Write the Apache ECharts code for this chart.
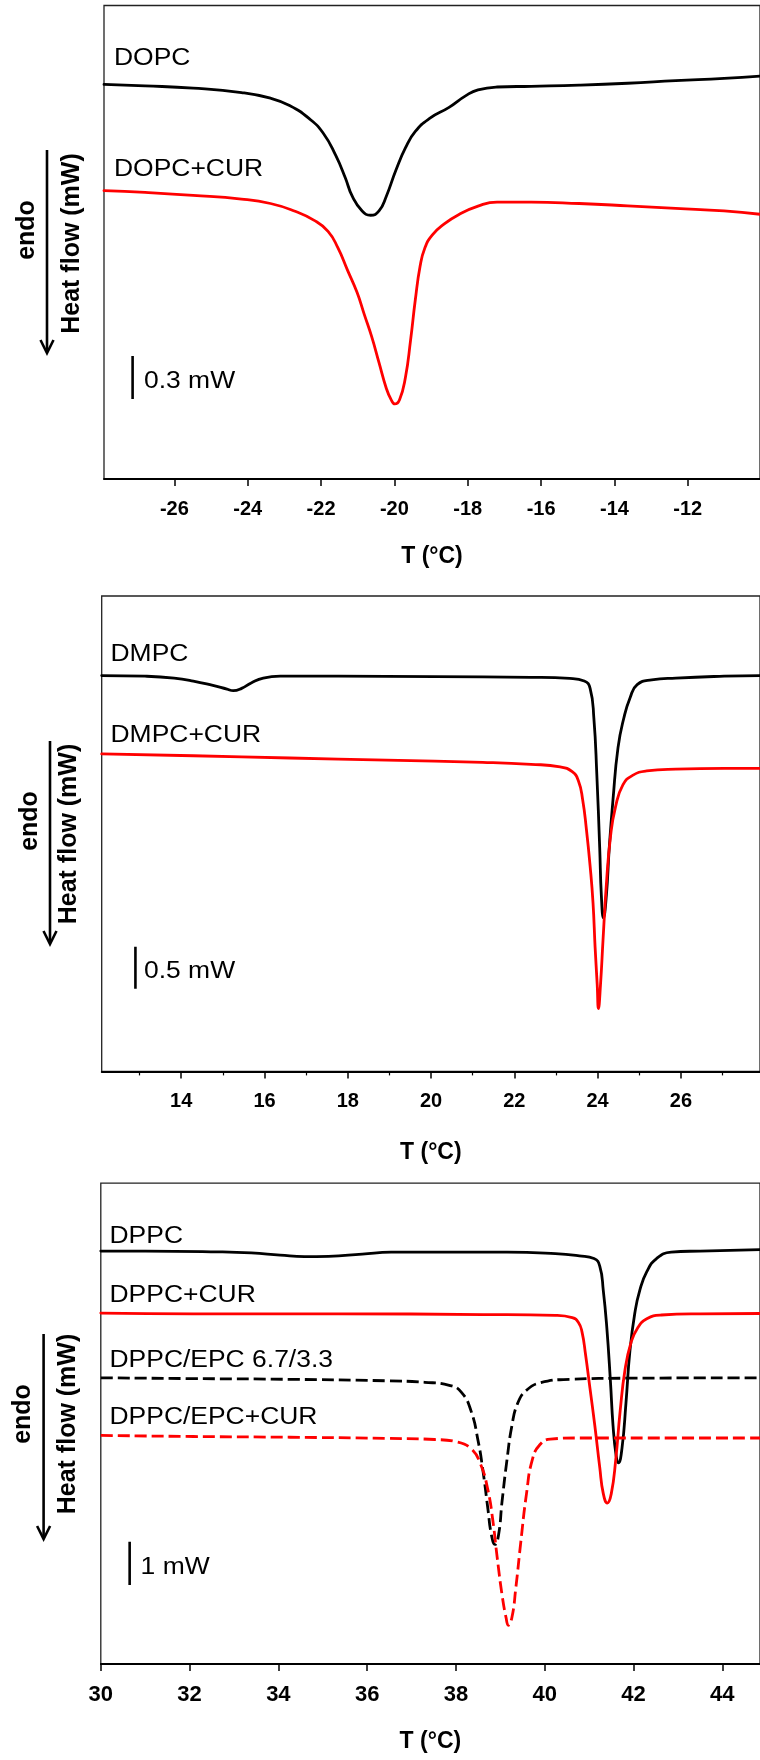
<!DOCTYPE html>
<html>
<head>
<meta charset="utf-8">
<script src="https://cdn.jsdelivr.net/npm/echarts@6/dist/echarts.min.js"></script>
<style>
html,body{margin:0;padding:0;background:#fff;}
#chart{width:760px;height:1760px;}
</style>
</head>
<body>
<div id="chart"></div>
<script>
// ---------- DATA (T in °C, heat flow in mW, arbitrary offsets) ----------
// Panel 1
const dopcT  = [-27.92,-26.80,-25.49,-24.17,-23.38,-22.86,-22.33,-21.94,-21.60,-21.34,-21.15,-20.88,-20.65,-20.42,-20.22,-19.96,-19.70,-19.43,-19.04,-18.51,-18.05,-17.72,-17.20,-16.27,-14.96,-13.64,-12.33,-11.01,-10.03];
const dopcHF = [2.750,2.740,2.724,2.693,2.654,2.603,2.513,2.410,2.255,2.100,1.971,1.868,1.838,1.868,1.971,2.152,2.307,2.422,2.513,2.590,2.672,2.712,2.732,2.737,2.745,2.758,2.776,2.792,2.808];
const dopcCurT  = [-27.92,-26.80,-25.49,-24.17,-23.38,-22.73,-22.20,-21.81,-21.54,-21.28,-21.02,-20.82,-20.62,-20.42,-20.22,-20.09,-19.99,-19.86,-19.70,-19.56,-19.43,-19.30,-19.17,-18.97,-18.64,-18.25,-17.72,-17.20,-16.27,-14.96,-13.64,-12.33,-11.01,-10.03];
const dopcCurHF = [2.010,1.997,1.977,1.951,1.920,1.868,1.804,1.726,1.610,1.456,1.301,1.146,0.992,0.811,0.631,0.553,0.523,0.553,0.708,0.966,1.249,1.482,1.610,1.700,1.778,1.842,1.902,1.930,1.930,1.920,1.904,1.886,1.868,1.845];
// Panel 2
const dmpcT  = [12.09,13.13,13.83,14.29,14.76,15.10,15.25,15.45,15.68,15.97,16.38,17.77,20.08,22.40,23.33,23.68,23.82,23.91,23.98,24.05,24.09,24.14,24.21,24.28,24.37,24.49,24.63,24.78,24.95,25.30,25.88,27.04,27.90];
const dmpcHF = [4.713,4.705,4.683,4.648,4.595,4.551,4.533,4.560,4.625,4.683,4.705,4.705,4.700,4.692,4.679,4.648,4.560,4.207,3.546,2.665,2.093,1.829,2.093,2.665,3.238,3.855,4.207,4.449,4.604,4.661,4.683,4.705,4.713];
const dmpcCurT  = [12.09,14.29,16.61,18.93,21.24,22.40,23.10,23.39,23.54,23.64,23.73,23.82,23.89,23.94,23.99,24.02,24.07,24.13,24.21,24.31,24.43,24.61,24.84,25.18,25.88,27.04,27.90];
const dmpcCurHF = [3.780,3.758,3.731,3.705,3.679,3.656,3.626,3.568,3.458,3.238,2.886,2.445,2.005,1.476,1.036,0.749,1.036,1.564,2.225,2.798,3.150,3.414,3.524,3.577,3.599,3.608,3.608];
// Panel 3
const dppcT  = [30.00,31.00,32.63,33.39,34.04,34.59,35.13,35.89,36.54,37.52,39.15,40.24,40.78,41.11,41.24,41.32,41.40,41.48,41.54,41.61,41.66,41.74,41.83,41.92,42.03,42.14,42.30,42.52,42.85,43.50,44.85];
const dppcHF = [9.543,9.543,9.525,9.499,9.448,9.412,9.421,9.473,9.517,9.517,9.517,9.482,9.430,9.369,9.194,8.630,7.762,6.545,5.501,4.806,4.649,4.979,6.023,7.240,8.109,8.630,9.065,9.369,9.517,9.543,9.577];
const dppcCurT  = [30.00,32.09,35.35,38.61,40.24,40.62,40.76,40.84,40.92,41.02,41.13,41.24,41.32,41.41,41.50,41.60,41.70,41.81,41.94,42.09,42.30,42.63,43.50,44.85];
const dppcCurHF = [8.109,8.092,8.092,8.075,8.057,8.005,7.892,7.675,7.153,6.370,5.501,4.545,3.938,3.721,3.938,4.718,5.850,6.806,7.413,7.760,7.977,8.065,8.092,8.100];
const epcT  = [30.00,32.09,34.26,36.43,37.30,37.85,38.12,38.34,38.50,38.61,38.72,38.80,38.88,38.96,39.04,39.15,39.26,39.39,39.59,39.91,40.56,41.87,44.85];
const epcHF = [6.614,6.596,6.579,6.545,6.510,6.441,6.284,5.850,5.155,4.460,3.589,2.982,2.764,2.982,3.764,4.718,5.501,6.023,6.328,6.501,6.579,6.605,6.614];
const epcCurT  = [30.00,32.09,34.26,36.43,37.52,38.01,38.34,38.55,38.72,38.83,38.93,39.04,39.13,39.18,39.26,39.35,39.46,39.59,39.72,39.89,40.13,40.78,42.96,44.85];
const epcCurHF = [5.284,5.258,5.241,5.215,5.189,5.137,4.979,4.633,4.024,3.328,2.460,1.591,1.069,0.896,1.069,1.764,2.808,3.938,4.718,5.067,5.199,5.224,5.224,5.224];

// Axis ranges and ticks
const xRanges = [[-27.92,-10.03],[12.09,27.90],[30,44.85]];
const yRanges = [[0,3.30],[0,5.66],[0,11.11]];
const ticks1 = [-26,-24,-22,-20,-18,-16,-14,-12];
const ticks2 = [14,16,18,20,22,24,26];
const minorTicks2 = [13,15,17,19,21,23,25,27];
const ticks3 = [30,32,34,36,38,40,42,44];
const xTitle = 'T (°C)';
const yTitle = 'Heat flow (mW)';
const endoLabel = 'endo';
// Scale bars: [T position, lower HF, bar size in mW]
const scaleBars = [[-27.14,0.557,0.3],[12.90,0.983,0.5],[30.65,1.827,1]];
const scaleLabels = ['0.3 mW','0.5 mW','1 mW'];
const curveLabels = [['DOPC','DOPC+CUR'],['DMPC','DMPC+CUR'],['DPPC','DPPC+CUR','DPPC/EPC 6.7/3.3','DPPC/EPC+CUR']];

// ---------- CHART ----------
const FONT = "'Liberation Sans', Arial, Helvetica, sans-serif";
const zip = (a,b)=>a.map((v,i)=>[v,b[i]]);
const grids = [
  {left:104, right:-3, top:5.5, height:473.5},
  {left:101.7, right:-3, top:596, height:475.4},
  {left:100.8, right:-3, top:1183.2, height:480.9}
].map(g=>Object.assign(g,{show:true, borderColor:'#222', borderWidth:1.3, backgroundColor:'transparent', containLabel:false}));

const tickSets = [ticks1,ticks2,ticks3];
const labelSizes = [20,20,22];
const nameGaps = [66,70,66];
const xAxes = [];
const yAxes = [];
for(let i=0;i<3;i++){
  xAxes.push({
    type:'value', gridIndex:i, min:xRanges[i][0], max:xRanges[i][1],
    axisLine:{show:true,onZero:false,lineStyle:{color:'#000',width:1.8}},
    axisTick:{show:true,length:7,customValues:tickSets[i],lineStyle:{color:'#000',width:1.5}},
    axisLabel:{show:true,customValues:tickSets[i],margin:20,fontSize:labelSizes[i],fontWeight:'bold',color:'#000',fontFamily:FONT},
    splitLine:{show:false},
    name:xTitle, nameLocation:'middle', nameGap:nameGaps[i],
    nameTextStyle:{fontSize:23,fontWeight:'bold',color:'#000',fontFamily:FONT}
  });
  yAxes.push({type:'value', gridIndex:i, min:yRanges[i][0], max:yRanges[i][1], show:false});
}
// minor ticks for panel 2
xAxes.push({
  type:'value', gridIndex:1, min:xRanges[1][0], max:xRanges[1][1], position:'bottom',
  axisLine:{show:false}, axisLabel:{show:false}, splitLine:{show:false},
  axisTick:{show:true,length:4,customValues:minorTicks2,lineStyle:{color:'#000',width:1.2}}
});

function line(name, xi, T, HF, color, dashed){
  return {
    type:'line', name, xAxisIndex:xi, yAxisIndex:xi, data:zip(T,HF),
    showSymbol:false, symbol:'none', smooth:0.5, silent:true,
    lineStyle:{color, width:2.8, type: dashed?[12,5]:'solid', join:'round', cap:'round'}, z:3
  };
}
const series = [
  line('DOPC',0,dopcT,dopcHF,'#000',false),
  line('DOPC+CUR',0,dopcCurT,dopcCurHF,'#ff0000',false),
  line('DMPC',1,dmpcT,dmpcHF,'#000',false),
  line('DMPC+CUR',1,dmpcCurT,dmpcCurHF,'#ff0000',false),
  line('DPPC',2,dppcT,dppcHF,'#000',false),
  line('DPPC+CUR',2,dppcCurT,dppcCurHF,'#ff0000',false),
  line('DPPC/EPC 6.7/3.3',2,epcT,epcHF,'#000',true),
  line('DPPC/EPC+CUR',2,epcCurT,epcCurHF,'#ff0000',true)
];
series.forEach(s=>{ if(s.lineStyle.type!=='solid') s.lineStyle.cap='butt'; });
scaleBars.forEach((b,i)=>{
  series.push({type:'line', xAxisIndex:i, yAxisIndex:i, data:[[b[0],b[1]],[b[0],b[1]+b[2]]],
    showSymbol:false, symbol:'none', silent:true, lineStyle:{color:'#000',width:2.6}});
});

// text / annotation graphics
const g = [];
function txt(x,y,s,opt){
  g.push(Object.assign({type:'text', x, y, silent:true,
    style:Object.assign({text:s, fill:'#000', font:'23px '+FONT, textAlign:'left', textVerticalAlign:'middle'},opt&&opt.style||{}),
  }, opt&&opt.el||{}));
}
const labelPos = [
  [[114,59],[114,169.5]],
  [[110.5,655],[110.5,735.5]],
  [[109.5,1236.5],[109.5,1295.5],[109.5,1361],[109.5,1417.5]]
];
labelPos.forEach((p,i)=>p.forEach((xy,j)=>txt(xy[0],xy[1],curveLabels[i][j],{el:{scaleX:1.15}})));
const scalePos = [[144,382],[144,972],[140.6,1568]];
scalePos.forEach((xy,i)=>txt(xy[0],xy[1],scaleLabels[i],{el:{scaleX:1.15}}));

// y-axis titles and arrows
const yTitlePos = [
  {heat:[72,243.5], endo:[27,230], arrow:[47,150,353]},
  {heat:[69,834], endo:[30,821], arrow:[50,741,944]},
  {heat:[68,1424], endo:[23,1414], arrow:[43.6,1334,1539]}
];
yTitlePos.forEach(p=>{
  g.push({type:'text', x:p.heat[0], y:p.heat[1], rotation:Math.PI/2, silent:true,
    style:{text:yTitle, fill:'#000', font:'bold 25px '+FONT, textAlign:'center', textVerticalAlign:'middle'}});
  g.push({type:'text', x:p.endo[0], y:p.endo[1], rotation:Math.PI/2, silent:true,
    style:{text:endoLabel, fill:'#000', font:'bold 25px '+FONT, textAlign:'center', textVerticalAlign:'middle'}});
  const [ax,ay0,ay1]=p.arrow;
  g.push({type:'line', silent:true, shape:{x1:ax,y1:ay0,x2:ax,y2:ay1-1}, style:{stroke:'#000',lineWidth:2.6}});
  g.push({type:'polyline', silent:true, shape:{points:[[ax-6.5,ay1-13],[ax,ay1],[ax+6.5,ay1-13]]}, style:{stroke:'#000',lineWidth:2.6,fill:null}});
});

const chart = echarts.init(document.getElementById('chart'), null, {renderer:'canvas'});
chart.setOption({
  animation:false,
  backgroundColor:'#fff',
  grid:grids, xAxis:xAxes, yAxis:yAxes, series, graphic:g
});
</script>
</body>
</html>
